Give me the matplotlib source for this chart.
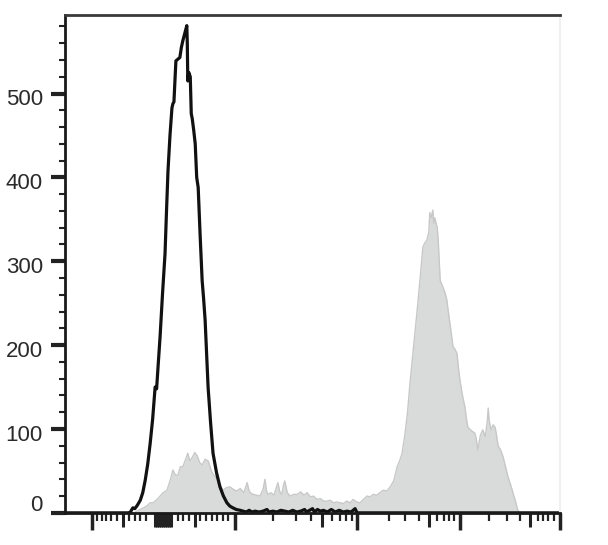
import matplotlib
matplotlib.use("Agg")
import matplotlib.pyplot as plt
import matplotlib.transforms as mtransforms

# channel positions (0-1000 display scale) and event counts
black_channel = [0, 128, 131, 134, 137, 141, 146, 152, 157, 162, 167, 172, 177, 182, 185,
                 188, 192, 197, 202, 205, 208, 212, 216, 218, 220, 222, 224, 228, 232, 235,
                 238, 242, 246, 247, 248, 250, 253, 255, 257, 260, 263, 266, 269, 273, 277,
                 280, 283, 286, 289, 294, 299, 306, 313, 320, 327, 333, 339, 346, 354,
                 360, 366, 372, 378, 384, 392, 400, 408, 412, 420, 428, 436, 444, 452, 460,
                 468, 476, 484, 488, 494, 500, 504, 510, 516, 522, 530, 538, 546, 554, 562,
                 570, 578, 586, 590, 1000]
black_count = [0, 0, 0, 3, 6, 5, 9, 15, 24, 39, 58, 83, 112, 150, 148,
               175, 210, 262, 309, 360, 408, 450, 483, 488, 490, 515, 539, 541, 543, 555,
               563, 572, 581, 560, 515, 525, 520, 476, 470, 456, 440, 400, 388, 330, 277,
               255, 230, 190, 150, 108, 71, 48, 31, 20, 12, 8, 6, 4, 3,
               2, 1, 3, 1, 2, 1, 2, 4, 1, 2, 1, 3, 2, 1, 3,
               1, 2, 4, 1, 3, 5, 1, 4, 2, 3, 1, 4, 1, 3, 1,
               2, 1, 5, 0, 0]

grey_channel = [0, 140, 145, 155, 165, 172, 178, 186, 192, 198, 206, 212, 218, 223, 228,
                233, 238, 243, 248, 252, 257, 262, 267, 272, 277, 283, 289, 293, 297, 302,
                307, 313, 319, 326, 333, 340, 347, 354, 361, 368, 371, 374, 380, 387, 394,
                400, 404, 407, 410, 416, 422, 430, 434, 438, 441, 444, 449, 455, 462, 469,
                476, 483, 489, 496, 502, 509, 516, 522, 529, 536, 542, 549, 556, 562, 569,
                576, 582, 589, 596, 603, 610, 616, 623, 630, 636, 643, 650, 657, 664, 671,
                676, 681, 687, 692, 697, 702, 707, 712, 717, 723, 727, 731, 735, 737, 740,
                743, 745, 747, 749, 752, 754, 756, 758, 763, 768, 771, 774, 779, 784, 788,
                792, 795, 798, 803, 808, 811, 814, 821, 828, 831, 834, 839, 844, 849, 853,
                855, 857, 861, 865, 869, 872, 875, 880, 885, 890, 895, 900, 905, 910, 915,
                919, 1000]
grey_count = [0, 0, 2, 5, 8, 12, 12, 16, 20, 24, 27, 38, 51, 45, 45,
              55, 55, 63, 71, 62, 66, 72, 68, 60, 57, 64, 62, 55, 48, 44,
              40, 33, 27, 30, 31, 28, 26, 29, 24, 36, 28, 24, 22, 21, 20,
              28, 40, 26, 22, 24, 21, 36, 25, 22, 32, 38, 24, 20, 22, 22,
              25, 21, 24, 19, 20, 16, 17, 14, 14, 15, 12, 13, 12, 11, 14,
              12, 16, 13, 12, 16, 20, 19, 22, 21, 24, 27, 26, 31, 38, 55,
              62, 71, 95, 120, 155, 185, 214, 245, 277, 317, 322, 325, 335, 358, 352,
              361, 345, 352, 347, 340, 325, 300, 277, 270, 262, 255, 242, 220, 198, 195,
              190, 172, 158, 140, 126, 112, 102, 98, 95, 88, 75, 92, 99, 91, 108,
              125, 110, 99, 105, 102, 92, 80, 75, 67, 55, 43, 34, 24, 14, 3,
              0, 0]

# axis ticks
y_major = [0, 100, 200, 300, 400, 500]
y_minor = [20, 40, 60, 80, 120, 140, 160, 180, 220, 240, 260, 280, 320, 340, 360, 380,
           420, 440, 460, 480, 520, 540, 560, 580]
x_long = [55, 343, 590, 798, 1000]
x_mid = [117, 182, 186, 190, 194, 198, 202, 206, 210, 214, 263, 519, 735, 939]
x_short = [65, 75, 83, 93, 105, 129, 141, 152, 164, 228, 238, 250, 273, 285, 297, 307,
           319, 329, 420, 467, 497, 539, 556, 568, 580, 655, 687, 715, 752, 766, 776, 786,
           857, 893, 919, 956, 966, 976, 988]

fig = plt.figure(figsize=(6.08, 5.45), dpi=100)
ax = fig.add_axes([0.107, 0.059, 0.814, 0.914])

ax.fill_between(grey_channel, grey_count, color="#d9dada", linewidth=0)
ax.plot(grey_channel, grey_count, color="#c8c8c8", linewidth=1.0)
ax.plot(black_channel, black_count, color="#111111", linewidth=2.3)

ax.set_xlim(0, 1000)
ax.set_ylim(0, 594)

for side in ["left", "bottom"]:
    ax.spines[side].set_linewidth(2.0)
    ax.spines[side].set_color("#1a1a1a")
ax.spines["top"].set_linewidth(2.0)
ax.spines["top"].set_color("#3a3a3a")
ax.spines["right"].set_linewidth(1.5)
ax.spines["right"].set_color("#f0f0f0")

ax.set_yticks(y_major)
ax.set_yticks(y_minor, minor=True)
ax.set_yticklabels([])
ax.tick_params(axis="y", which="major", length=10, width=3, color="#222222")
ax.tick_params(axis="y", which="minor", length=4, width=1.5, color="#222222")

ax.set_xticks(x_long)
ax.set_xticks(x_short, minor=True)
ax.set_xticklabels([])
ax.tick_params(axis="x", which="major", length=12, width=2.5, color="#222222")
ax.tick_params(axis="x", which="minor", length=6, width=1.6, color="#222222")

sec = ax.secondary_xaxis("bottom")
sec.spines["bottom"].set_visible(False)
sec.set_xticks(x_mid)
sec.set_xticklabels([])
sec.tick_params(axis="x", length=10, width=2.2, color="#222222")

# y labels sit slightly below their ticks, zero sits above
trans = mtransforms.blended_transform_factory(ax.transAxes, ax.transData)
for v in y_major:
    dy = 5.5 / 72 if v == 0 else -4.5 / 72
    off = mtransforms.ScaledTranslation(-16 / 72, dy, fig.dpi_scale_trans)
    ax.text(0, v, str(v), transform=trans + off, ha="right", va="center",
            fontsize=16, family="Liberation Sans", color="#2a2a2a")

fig.savefig("out.png", dpi=100)
